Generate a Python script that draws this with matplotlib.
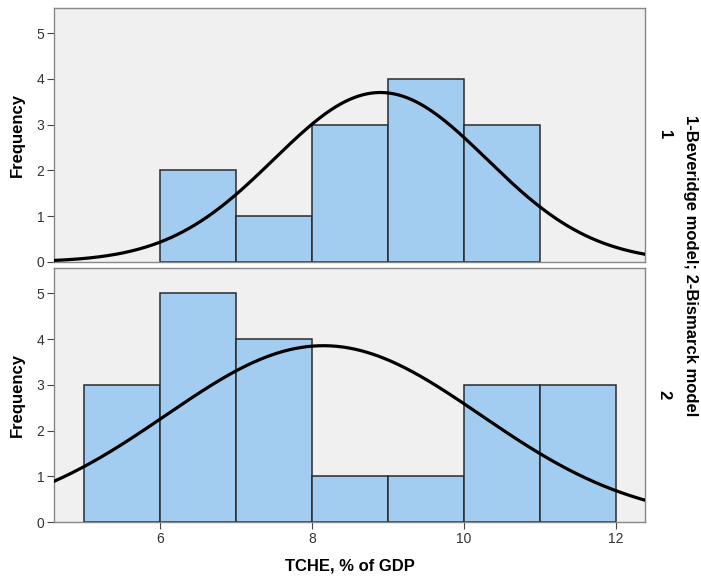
import numpy as np
import matplotlib.pyplot as plt

plt.rcParams['font.family'] = ['Liberation Sans', 'DejaVu Sans']

# histogram data (bin edges and counts)
bins_top = [6, 7, 8, 9, 10, 11]
counts_top = [2, 1, 3, 4, 3]
bins_bot = [5, 6, 7, 8, 9, 10, 11, 12]
counts_bot = [3, 5, 4, 1, 1, 3, 3]

# fitted normal curve parameters (mean, sd, n)
fit_top = (8.9, 1.40, 13)
fit_bot = (8.15, 2.07, 20)

group_labels = ['1', '2']
xticks = [6, 8, 10, 12]
yticks = [0, 1, 2, 3, 4, 5]

fig = plt.figure(figsize=(7.01, 5.77), dpi=100)
ax1 = fig.add_axes([0.077, 0.546, 0.843, 0.440])
ax2 = fig.add_axes([0.077, 0.0953, 0.843, 0.440])

xs = np.linspace(4.605, 12.38, 400)

for ax, edges, counts, fit, lab in [(ax1, bins_top, counts_top, fit_top, group_labels[0]),
                                    (ax2, bins_bot, counts_bot, fit_bot, group_labels[1])]:
    ax.set_facecolor('#f0f0f0')
    ax.bar(edges[:-1], counts, width=np.diff(edges), align='edge',
           color='#a3cdf0', edgecolor='#2a2a2a', linewidth=1.1, zorder=2)
    m, s, n = fit
    ys = n * 1.0 / (s * np.sqrt(2 * np.pi)) * np.exp(-0.5 * ((xs - m) / s) ** 2)
    ax.plot(xs, ys, color='black', lw=2.3, zorder=3)
    ax.set_xlim(4.605, 12.38)
    ax.set_ylim(0, 5.55)
    ax.set_yticks(yticks)
    ax.tick_params(axis='y', direction='out', length=5, color='#444444',
                   labelsize=10, labelcolor='#333333', pad=2)
    ax.set_ylabel('Frequency', fontsize=12, fontweight='bold', labelpad=8)
    for sp in ax.spines.values():
        sp.set_color('#888888')
        sp.set_linewidth(1.0)
    ax.text(1.02, 0.5, lab, transform=ax.transAxes, rotation=270,
            ha='left', va='center', fontsize=12, fontweight='bold')

ax1.set_xticks([])
ax2.set_xticks(xticks)
ax2.tick_params(axis='x', direction='out', length=5, color='#444444',
                labelsize=10, labelcolor='#333333', pad=2)
ax2.set_xlabel('TCHE, % of GDP', fontsize=12, fontweight='bold', labelpad=9)

fig.text(0.985, 0.54, '1-Beveridge model; 2-Bismarck model', rotation=270,
         ha='center', va='center', fontsize=12, fontweight='bold')

fig.savefig('out.png', dpi=100)
